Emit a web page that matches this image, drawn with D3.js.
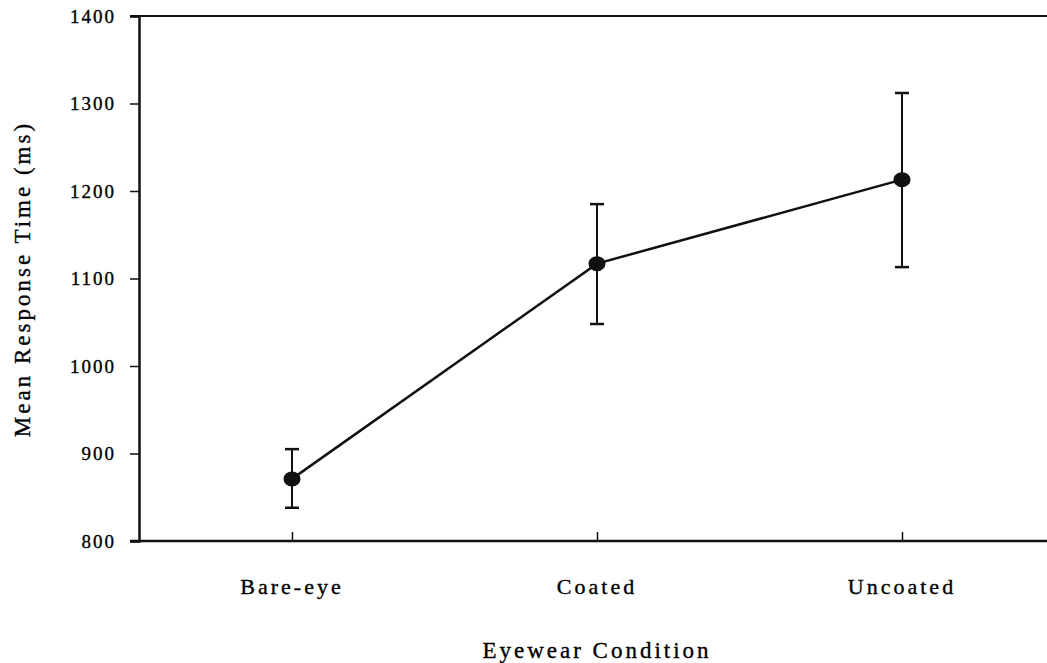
<!DOCTYPE html>
<html>
<head>
<meta charset="utf-8">
<script src="https://cdn.jsdelivr.net/npm/d3@7"></script>
<style>
  body { margin: 0; background: #fff; }
  text { font-family: "Liberation Serif", "DejaVu Serif", serif; fill: #000; stroke: #000; stroke-width: 0.35px; }
</style>
</head>
<body>
<div id="chart"></div>
<script>
// data
var conditions = ["Bare-eye", "Coated", "Uncoated"];
var meanRT = [871, 1117, 1213];
var upperRT = [905, 1185, 1312];
var lowerRT = [838, 1048, 1113];
var yTicks = [800, 900, 1000, 1100, 1200, 1300, 1400];

var WIDTH = 1047, HEIGHT = 663;
var plotLeft = 139, plotTop = 16, plotBottom = 541;

var svg = d3.select('#chart')
            .append('svg')
            .attr('width', WIDTH)
            .attr('height', HEIGHT);

// x: categories spaced evenly, plot runs off the right edge
var x = d3.scalePoint()
          .domain(conditions)
          .range([292, 902]);

var y = d3.scaleLinear()
          .domain([800, 1400])
          .range([plotBottom, plotTop]);

// top frame line
svg.append('line')
   .attr('x1', 130).attr('x2', WIDTH)
   .attr('y1', y(1400)).attr('y2', y(1400))
   .attr('stroke', '#111').attr('stroke-width', 2);

// y axis
var yAxis = svg.append('g')
   .attr('transform', 'translate(' + plotLeft + ',0)')
   .call(d3.axisLeft(y).tickValues(yTicks).tickSize(9).tickPadding(14)
           .tickFormat(d3.format('d')));
yAxis.select('.domain').attr('stroke', '#111').attr('stroke-width', 2.5);
yAxis.selectAll('.tick line').attr('stroke', '#111').attr('stroke-width', 1.5);
yAxis.selectAll('.tick text')
     .attr('font-size', 19)
     .attr('letter-spacing', 2)
     .attr('font-family', '"Liberation Serif", serif')
     .attr('fill', '#000');

// x axis, ticks pointing inward
var xAxis = svg.append('g')
   .attr('transform', 'translate(0,' + plotBottom + ')')
   .call(d3.axisTop(x).tickSize(9).tickFormat(''));
xAxis.select('.domain').remove();
xAxis.selectAll('.tick line').attr('stroke', '#111').attr('stroke-width', 1.5);
svg.append('line')
   .attr('x1', 130).attr('x2', WIDTH)
   .attr('y1', plotBottom).attr('y2', plotBottom)
   .attr('stroke', '#111').attr('stroke-width', 2.5);

// category labels
svg.selectAll('.cat')
   .data(conditions)
   .enter()
   .append('text')
   .attr('class', 'cat')
   .attr('x', function(d) { return x(d); })
   .attr('y', 594)
   .attr('text-anchor', 'middle')
   .attr('font-size', 22)
   .attr('letter-spacing', 3)
   .text(function(d) { return d; });

// axis titles
svg.append('text')
   .attr('x', x('Coated'))
   .attr('y', 658)
   .attr('text-anchor', 'middle')
   .attr('font-size', 23)
   .attr('letter-spacing', 3)
   .text('Eyewear Condition');

svg.append('text')
   .attr('transform', 'translate(30,' + 279 + ') rotate(-90)')
   .attr('text-anchor', 'middle')
   .attr('font-size', 23)
   .attr('letter-spacing', 3)
   .text('Mean Response Time (ms)');

// error bars
var bars = svg.selectAll('.err')
   .data(conditions)
   .enter()
   .append('g')
   .attr('class', 'err');

bars.append('line')
    .attr('x1', function(d) { return x(d); })
    .attr('x2', function(d) { return x(d); })
    .attr('y1', function(d, i) { return y(upperRT[i]); })
    .attr('y2', function(d, i) { return y(lowerRT[i]); })
    .attr('stroke', '#111').attr('stroke-width', 2);

[upperRT, lowerRT].forEach(function(arr) {
  bars.append('line')
      .attr('x1', function(d) { return x(d) - 7; })
      .attr('x2', function(d) { return x(d) + 7; })
      .attr('y1', function(d, i) { return y(arr[i]); })
      .attr('y2', function(d, i) { return y(arr[i]); })
      .attr('stroke', '#111').attr('stroke-width', 2.5);
});

// mean line
var line = d3.line()
  .x(function(d, i) { return x(conditions[i]); })
  .y(function(d) { return y(d); });

svg.append('path')
   .datum(meanRT)
   .attr('d', line)
   .attr('fill', 'none')
   .attr('stroke', '#111')
   .attr('stroke-width', 2.5);

// markers
svg.selectAll('.pt')
   .data(meanRT)
   .enter()
   .append('ellipse')
   .attr('class', 'pt')
   .attr('cx', function(d, i) { return x(conditions[i]); })
   .attr('cy', function(d) { return y(d); })
   .attr('rx', 8.5)
   .attr('ry', 7.5)
   .attr('fill', '#111');
</script>
</body>
</html>
